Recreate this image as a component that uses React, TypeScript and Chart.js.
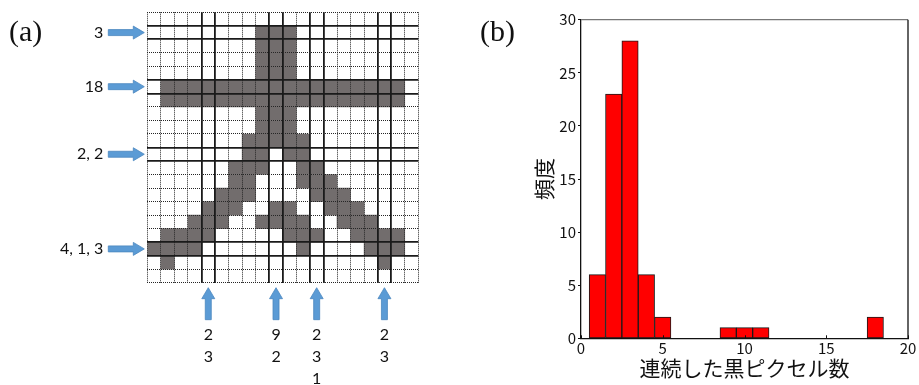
import React, { useEffect, useRef } from "react";
import { Chart, registerables } from "chart.js";

Chart.register(...registerables);

// ---------- (a) binary image, 20 x 20 pixels ('#' = black pixel) ----------
const pixelRows: string[] = [
  "....................",
  "........###.........",
  "........###.........",
  "........###.........",
  "........###.........",
  ".##################.",
  ".##################.",
  "........###.........",
  "........###.........",
  ".......#####........",
  ".......##.##........",
  "......###..##.......",
  "......##...###......",
  ".....###....###.....",
  "....###..##..###....",
  "...###..####..###...",
  ".####.....###..####.",
  "####.......#....###.",
  ".#...............#..",
  "....................",
];
const markedRows = [1, 5, 10, 17];
const rowLabels = ["3", "18", "2, 2", "4, 1, 3"];
const markedCols = [4, 9, 12, 17];
const colLabels = [["2", "3"], ["9", "2"], ["2", "3", "1"], ["2", "3"]];

// ---------- (b) histogram ----------
const histBins = [1, 2, 3, 4, 5, 9, 10, 11, 18];
const histCounts = [6, 23, 28, 6, 2, 1, 1, 1, 2];
const histXTicks = [0, 5, 10, 15, 20];
const histYTicks = [0, 5, 10, 15, 20, 25, 30];
const xTitle = "連続した黒ピクセル数";
const yTitle = "頻度";

const gridN = pixelRows.length;
const cells: { x: number; y: [number, number] }[] = [];
pixelRows.forEach((row, r) => {
  row.split("").forEach((ch, c) => {
    if (ch === "#") cells.push({ x: c + 0.5, y: [r, r + 1] });
  });
});
const thickRowLines = new Set<number>();
markedRows.forEach((r) => { thickRowLines.add(r); thickRowLines.add(r + 1); });
const thickColLines = new Set<number>();
markedCols.forEach((c) => { thickColLines.add(c); thickColLines.add(c + 1); });

const LABEL_FONT = "Lato, 'Open Sans', sans-serif";
const CJK_FONT = "'Noto Sans CJK JP', sans-serif";

function blockArrow(ctx: CanvasRenderingContext2D, x0: number, y0: number, x1: number, y1: number) {
  const shaftHalf = 3, headHalf = 6.5, headLen = 11;
  const dx = x1 - x0, dy = y1 - y0;
  const len = Math.hypot(dx, dy);
  const ux = dx / len, uy = dy / len;
  const px = -uy, py = ux;
  const bx = x1 - ux * headLen, by = y1 - uy * headLen;
  ctx.beginPath();
  ctx.moveTo(x0 + px * shaftHalf, y0 + py * shaftHalf);
  ctx.lineTo(bx + px * shaftHalf, by + py * shaftHalf);
  ctx.lineTo(bx + px * headHalf, by + py * headHalf);
  ctx.lineTo(x1, y1);
  ctx.lineTo(bx - px * headHalf, by - py * headHalf);
  ctx.lineTo(bx - px * shaftHalf, by - py * shaftHalf);
  ctx.lineTo(x0 - px * shaftHalf, y0 - py * shaftHalf);
  ctx.closePath();
  ctx.fillStyle = "#5b9bd5";
  ctx.fill();
  ctx.lineWidth = 0.8;
  ctx.strokeStyle = "#4a86bf";
  ctx.stroke();
}

const arrowPlugin = {
  id: "arrowsAndCounts",
  afterDraw(chart: any) {
    const { ctx, chartArea, scales } = chart;
    const xs = scales.x, ys = scales.y;
    ctx.save();
    ctx.font = `16px ${LABEL_FONT}`;
    markedRows.forEach((r, i) => {
      const cy = ys.getPixelForValue(r + 0.5);
      blockArrow(ctx, chartArea.left - 39, cy, chartArea.left - 3, cy);
      ctx.textAlign = "right";
      ctx.textBaseline = "middle";
      ctx.fillStyle = "#111";
      ctx.fillText(rowLabels[i], chartArea.left - 44, cy);
    });
    markedCols.forEach((c, i) => {
      const cx = xs.getPixelForValue(c + 0.5);
      blockArrow(ctx, cx, chartArea.bottom + 37, cx, chartArea.bottom + 5);
      ctx.textAlign = "center";
      ctx.textBaseline = "middle";
      ctx.fillStyle = "#111";
      colLabels[i].forEach((t, k) => {
        ctx.fillText(t, cx, chartArea.bottom + 52 + k * 22);
      });
    });
    ctx.restore();
  },
};

const framePlugin = {
  id: "frameAndInnerTicks",
  afterDraw(chart: any) {
    const { ctx, chartArea } = chart;
    const xs = chart.scales.x;
    ctx.save();
    ctx.lineWidth = 1.3;
    ctx.strokeStyle = "#777";
    ctx.beginPath();
    ctx.moveTo(chartArea.left, chartArea.top);
    ctx.lineTo(chartArea.right, chartArea.top);
    ctx.stroke();
    ctx.strokeStyle = "#111";
    ctx.beginPath();
    ctx.moveTo(chartArea.right, chartArea.top);
    ctx.lineTo(chartArea.right, chartArea.bottom);
    ctx.stroke();
    ctx.lineWidth = 1;
    histXTicks.forEach((v) => {
      const px = Math.round(xs.getPixelForValue(v)) + 0.5;
      ctx.beginPath();
      ctx.moveTo(px, chartArea.bottom);
      ctx.lineTo(px, chartArea.bottom - 3);
      ctx.stroke();
    });
    ctx.restore();
  },
};

function PixelChart() {
  const ref = useRef<HTMLCanvasElement | null>(null);
  useEffect(() => {
    if (!ref.current) return;
    const gridScale = (thick: Set<number>, reverse: boolean, horizontal: boolean) => ({
      type: "linear" as const,
      min: 0,
      max: gridN,
      reverse,
      offset: false,
      ticks: { display: false, stepSize: 1 },
      grid: {
        z: 1,
        offset: false,
        drawTicks: false,
        lineWidth: (ctx: any) => (thick.has(ctx.tick?.value) ? 1.8 : 1),
        color: (ctx: any) => (thick.has(ctx.tick?.value) ? "#1a1a1a" : "#262626"),
      },
      border: {
        display: false,
        dash: (ctx: any) => (thick.has(ctx.tick?.value) ? [] : [1, 1]),
      },
      afterFit: (s: any) => {
        if (horizontal) s.height = 0;
        else s.width = 0;
      },
    });
    const chart = new Chart(ref.current, {
      type: "bar",
      data: {
        datasets: [
          {
            data: cells as any,
            backgroundColor: "#726d6d",
            borderWidth: 0,
            barPercentage: 1,
            categoryPercentage: 1,
            grouped: false,
          } as any,
        ],
      },
      options: {
        animation: false,
        responsive: false,
        maintainAspectRatio: false,
        layout: { padding: { left: 147.3, top: 12.3, right: 46.7, bottom: 102.3 } },
        plugins: { legend: { display: false }, tooltip: { enabled: false } },
        scales: {
          x: gridScale(thickColLines, false, true) as any,
          y: gridScale(thickRowLines, true, false) as any,
        },
      },
      plugins: [arrowPlugin],
    });
    return () => chart.destroy();
  }, []);
  return <canvas ref={ref} width={465} height={385} style={{ position: "absolute", left: 0, top: 0 }} />;
}

function HistChart() {
  const ref = useRef<HTMLCanvasElement | null>(null);
  useEffect(() => {
    if (!ref.current) return;
    const chart = new Chart(ref.current, {
      type: "bar",
      data: {
        datasets: [
          {
            data: histBins.map((b, i) => ({ x: b, y: histCounts[i] })) as any,
            backgroundColor: "#ff0000",
            borderColor: "#1a1a1a",
            borderWidth: 1,
            borderSkipped: false,
            barPercentage: 1,
            categoryPercentage: 1,
          } as any,
        ],
      },
      options: {
        animation: false,
        responsive: false,
        maintainAspectRatio: false,
        layout: { padding: { top: 19.7, right: 11, left: 0, bottom: 0 } },
        plugins: { legend: { display: false }, tooltip: { enabled: false } },
        scales: {
          x: {
            type: "linear",
            min: 0,
            max: 20,
            offset: false,
            afterBuildTicks: (s: any) => { s.ticks = histXTicks.map((v) => ({ value: v })); },
            ticks: { color: "#111", font: { family: CJK_FONT, size: 15 }, padding: 1, maxRotation: 0, autoSkip: false },
            grid: { drawOnChartArea: false, drawTicks: false, offset: false },
            border: { color: "#111", width: 1.3 },
            title: { display: true, text: xTitle, color: "#111", font: { family: CJK_FONT, size: 21 }, padding: { top: 0, bottom: 4 } },
            afterFit: (s: any) => { s.height = 46.7; },
          },
          y: {
            type: "linear",
            min: 0,
            max: 30,
            afterBuildTicks: (s: any) => { s.ticks = histYTicks.map((v) => ({ value: v })); },
            ticks: { color: "#111", font: { family: CJK_FONT, size: 15 }, padding: 2, autoSkip: false },
            grid: { drawOnChartArea: false, drawTicks: true, tickLength: 3, color: "#111" },
            border: { color: "#111", width: 1.3 },
            title: { display: true, text: yTitle, color: "#111", font: { family: CJK_FONT, size: 21 }, padding: { top: 61, bottom: 0 } },
            afterFit: (s: any) => { s.width = 111; },
          },
        },
      },
      plugins: [framePlugin],
    });
    return () => chart.destroy();
  }, []);
  return <canvas ref={ref} width={449} height={385} style={{ position: "absolute", left: 470, top: 0 }} />;
}

export default function App() {
  const panelLabel: React.CSSProperties = {
    position: "absolute",
    top: 12,
    fontFamily: "'Liberation Serif', 'DejaVu Serif', serif",
    fontSize: 30,
    lineHeight: "38px",
    color: "#111",
  };
  return (
    <div style={{ position: "fixed", left: 0, top: 0, width: 919, height: 385, background: "#fff", overflow: "hidden" }}>
      <PixelChart />
      <HistChart />
      <div style={{ ...panelLabel, left: 9 }}>(a)</div>
      <div style={{ ...panelLabel, left: 480 }}>(b)</div>
    </div>
  );
}
